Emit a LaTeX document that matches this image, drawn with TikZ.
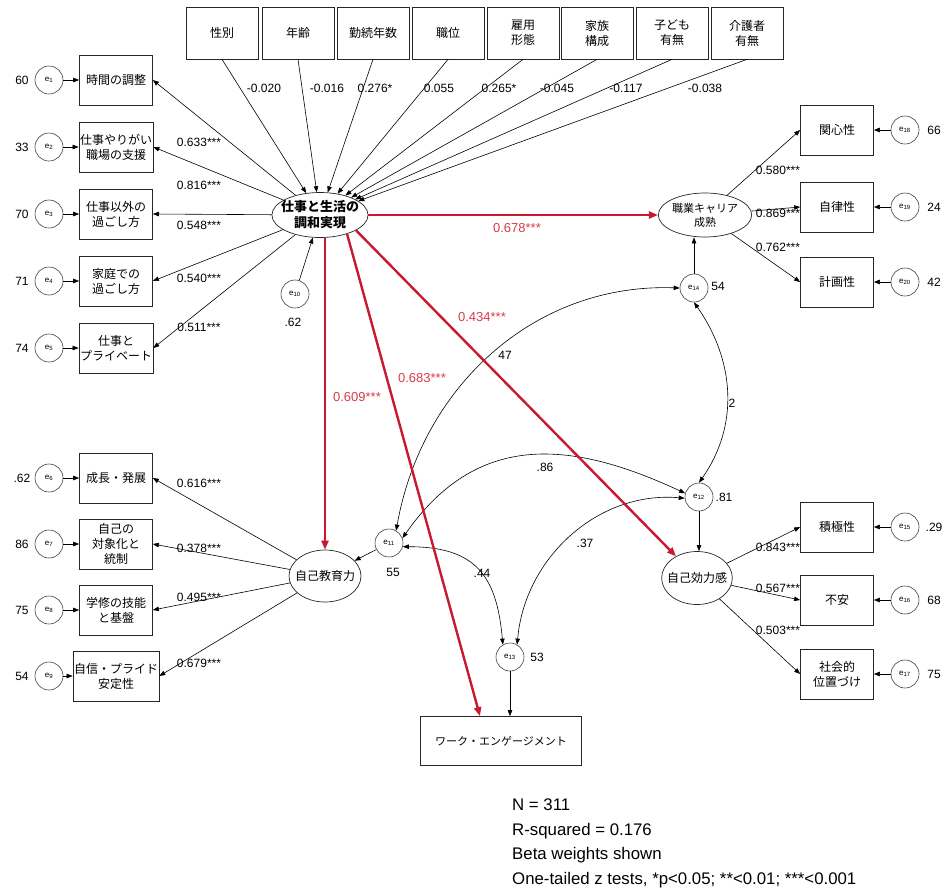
\documentclass[tikz,border=0pt]{standalone}
\usepackage{fontspec}
\setmainfont{Liberation Sans}
\newfontfamily\jp{Noto Sans CJK JP}
\usetikzlibrary{arrows.meta,shapes.geometric}
\definecolor{pathred}{RGB}{200,25,50}
\definecolor{labred}{RGB}{215,60,75}

\begin{document}
\begin{tikzpicture}[>={Triangle[length=6pt,width=4.5pt]},
		obs/.style={draw=black!85, line width=0.7pt, minimum width=73pt, minimum height=50pt,
			inner sep=1pt, align=center, font=\jp\fontsize{12}{15}\selectfont},
		lat/.style={draw=black!85, line width=0.7pt, ellipse, inner xsep=-5pt, inner ysep=0pt,
			align=center, font=\jp\fontsize{12}{15}\selectfont},
		err/.style={draw=black!75, line width=0.6pt, circle, minimum size=28pt, inner sep=0pt,
			font=\fontsize{8}{8}\selectfont},
		arr/.style={line width=0.6pt, ->},
		cov/.style={line width=0.6pt, <->},
		redarr/.style={draw=pathred, line width=2.4pt, -{Triangle[length=9pt,width=7pt]}},
		coef/.style={font=\fontsize{12}{12}\selectfont, inner sep=1pt},
		redcoef/.style={font=\fontsize{13}{13}\selectfont, text=labred, inner sep=1pt}]
	\useasboundingbox (0pt,0pt) rectangle (942pt,-887pt);
	{
		\def\lbox{116pt}
		\def\lerr{49pt}
		\def\lval{22pt}
		\def\rbox{837pt}
		\def\rerr{905pt}
		\def\rval{934pt}

		\node[lat, minimum width=95pt, minimum height=45pt,
			font=\jp\bfseries\fontsize{13}{16}\selectfont] (cf) at (320pt,-215pt) {仕事と生活の\\調和実現};
		\node[lat, minimum width=93pt, minimum height=44pt, inner xsep=0pt,
			font=\jp\fontsize{11}{14}\selectfont] (career) at (705pt,-215pt) {職業キャリア\\成熟};
		\node[lat, minimum width=72pt, minimum height=52pt] (selfedu) at (325pt,-576pt) {自己教育力};
		\node[lat, minimum width=70pt, minimum height=53pt] (selfeff) at (697pt,-578pt) {自己効力感};
		\node[obs, minimum width=161pt, minimum height=49pt,
			font=\jp\fontsize{11}{13}\selectfont] (work) at (501pt,-741pt) {ワーク・エンゲージメント};

		\foreach \x/\lbl [count=\i] in {222/性別, 298/年齢, 373/勤続年数, 448/職位, 523/雇用\\形態,
			597/家族\\構成, 672/子ども\\有無, 747/介護者\\有無}
		{
			\node[obs, minimum width=72pt, minimum height=52pt] (top\i) at (\x pt,-33pt) {\lbl};
			\draw[arr] (top\i.south) -- (cf);
		}
		\foreach \x/\c [count=\i] in {264/-0.020, 327/-0.016, 375/0.276*, 439/0.055, 499/0.265*,
			557/-0.045, 626/-0.117, 705/-0.038}
			\node[coef] (c\i) at (\x pt,-88pt) {\c};

		\foreach \y/\lbl/\ev/\rv in {80/時間の調整/1/60, 147/仕事やりがい\\職場の支援/2/33,
			214/仕事以外の\\過ごし方/3/70, 281/家庭での\\過ごし方/4/71, 348/仕事と\\プライベート/5/74,
			478/成長・発展/6/.62, 544/自己の\\対象化と\\統制/7/86, 610/学修の技能\\と基盤/8/75,
			676/自信・プライド\\安定性/9/54}
		{
			\node[obs] (ob\ev) at (\lbox,-\y pt) {\lbl};
			\node[err] (e\ev) at (\lerr,-\y pt) {e\textsubscript{\ev}};
			\node[coef] (v\ev) at (\lval,-\y pt) {\rv};
			\draw[arr] (e\ev) -- (ob\ev);
		}
		\foreach \ev in {1,...,5}
			\draw[arr] (cf) -- (ob\ev.east);
		\foreach \ev in {6,...,9}
			\draw[arr] (selfedu) -- (ob\ev.east);

		\foreach \y/\lbl/\ev/\rv in {130/関心性/18/66, 207/自律性/19/24, 282/計画性/20/42,
			527/積極性/15/.29, 600/不安/16/68, 674/社会的\\位置づけ/17/75}
		{
			\node[obs] (ob\ev) at (\rbox,-\y pt) {\lbl};
			\node[err] (e\ev) at (\rerr,-\y pt) {e\textsubscript{\ev}};
			\node[coef] (v\ev) at (\rval,-\y pt) {\rv};
			\draw[arr] (e\ev) -- (ob\ev);
		}
		\foreach \ev in {18,19,20}
			\draw[arr] (career) -- (ob\ev.west);
		\foreach \ev in {15,16,17}
			\draw[arr] (selfeff) -- (ob\ev.west);

		\foreach \x/\y/\c [count=\i] in {199/142/0.633***, 199/185/0.816***, 199/225/0.548***,
			199/278/0.540***, 199/327/0.511***, 199/483/0.616***, 199/548/0.378***, 199/597/0.495***,
			199/663/0.679***, 778/170/0.580***, 778/213/0.869***, 778/247/0.762***, 778/547/0.843***,
			778/588/0.567***, 778/630/0.503***}
			\node[coef] (ld\i) at (\x pt,-\y pt) {\c};

		\node[err] (e10) at (295pt,-294pt) {e\textsubscript{10}};
		\node[coef] (v10) at (293pt,-322pt) {.62};
		\node[err] (e11) at (389pt,-543pt) {e\textsubscript{11}};
		\node[coef] (v11) at (393pt,-572pt) {55};
		\node[err] (e12) at (699pt,-497pt) {e\textsubscript{12}};
		\node[coef] (v12) at (724pt,-497pt) {.81};
		\node[err] (e13) at (510pt,-657pt) {e\textsubscript{13}};
		\node[coef] (v13) at (537pt,-657pt) {53};
		\node[err] (e14) at (694pt,-288pt) {e\textsubscript{14}};
		\node[coef] (v14) at (718pt,-286pt) {54};

		\draw[arr] (e10) -- (cf);
		\draw[arr] (e11) -- (selfedu);
		\draw[arr] (e12.south) -- (e12.south |- selfeff.north);
		\draw[arr] (e13.south) -- (e13.south |- work.north);
		\draw[arr] (e14.north) -- (e14.north |- career.south);

		\draw[cov] (e14.west) to[out=178,in=80] (e11.60);
		\draw[cov] (e14.south) to[out=-55,in=55] (e12.north);
		\draw[cov] (e12.165) to[out=155,in=55,looseness=1.15] (e11.20);
		\draw[cov] (e11.-15) to[out=0,in=95,looseness=1.3] (e13.120);
		\draw[cov] (e12.185) to[out=175,in=85] (e13.60);
		\node[coef] (k1) at (505pt,-355pt) {47};
		\node[coef] (k2) at (732pt,-403pt) {2};
		\node[coef] (k3) at (545pt,-467pt) {.86};
		\node[coef] (k4) at (482pt,-573pt) {.44};
		\node[coef] (k5) at (585pt,-543pt) {.37};

		\draw[redarr] (cf) -- (career);
		\draw[redarr] (cf.south -| selfedu.north) -- (selfedu.north);
		\draw[redarr] (cf.-35) -- ([xshift=-21pt]work.north);
		\draw[redarr] (cf.-23) -- (selfeff.134);
		\node[redcoef] (r1) at (517pt,-228pt) {0.678***};
		\node[redcoef] (r2) at (357pt,-397pt) {0.609***};
		\node[redcoef] (r3) at (422pt,-378pt) {0.683***};
		\node[redcoef] (r4) at (482pt,-317pt) {0.434***};

		\node[anchor=base west, align=left, font=\fontsize{16.8}{24.5}\selectfont, inner sep=0pt]
			(note) at (512pt,-884pt) {N = 311\\R-squared = 0.176\\Beta weights shown\\One-tailed z tests, *p<0.05; **<0.01; ***<0.001};
	}
\end{tikzpicture}
\end{document}
